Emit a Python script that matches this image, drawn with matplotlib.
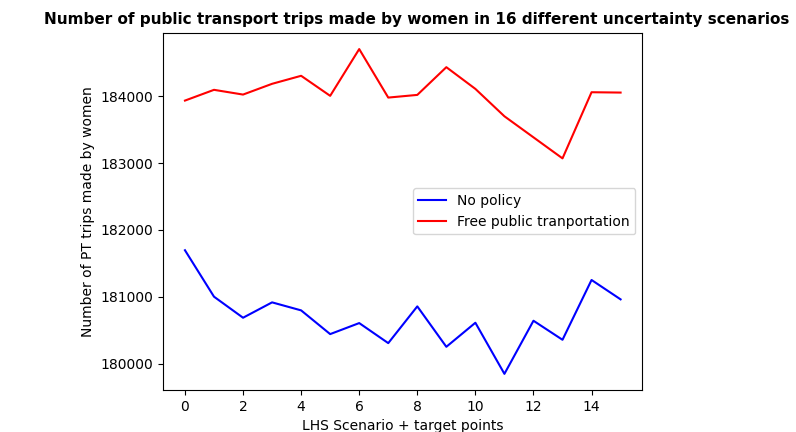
import matplotlib
matplotlib.use("Agg")
import matplotlib.pyplot as plt
import numpy as np

scenarios = np.arange(16)
no_policy = [181695, 181000, 180685, 180915, 180795, 180440, 180605, 180305,
             180855, 180250, 180610, 179845, 180640, 180355, 181250, 180960]
free_pt = [183935, 184096, 184025, 184186, 184306, 184006, 184706, 183980,
           184020, 184435, 184110, 183700, 183385, 183070, 184060, 184055]

fig = plt.figure(figsize=(7.96, 4.32), dpi=100)
ax = fig.add_axes([0.205, 0.097, 0.602, 0.827])

ax.plot(scenarios, no_policy, color='blue', label='No policy')
ax.plot(scenarios, free_pt, color='red', label='Free public tranportation')

ax.set_xticks(np.arange(0, 16, 2))
ax.set_xlabel('LHS Scenario + target points')
ax.set_ylabel('Number of PT trips made by women')
ax.legend(loc='center right')

fig.text(0.523, 0.955, 'Number of public transport trips made by women in 16 different uncertainty scenarios',
         ha='center', va='center', fontsize=11, fontweight='bold')

fig.savefig('out.png', dpi=100)
